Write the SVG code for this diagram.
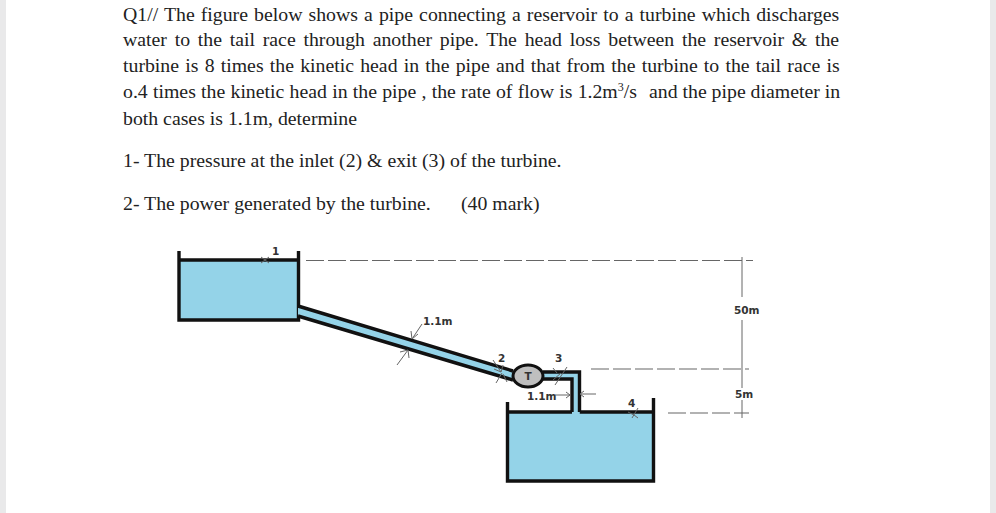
<svg xmlns="http://www.w3.org/2000/svg" width="996" height="513" viewBox="0 0 996 513">
<style>
.q{font-family:"Liberation Serif","Times New Roman",serif;font-size:19.8px;fill:#222}
.s{font-size:12px}
.l{font-family:"DejaVu Sans","Liberation Sans",sans-serif;font-size:10.5px;font-weight:bold;fill:#333}
.w{fill:#94d3e8;stroke:none}
.k{fill:none;stroke:#111;stroke-width:3.4}
.d{fill:none;stroke:#666;stroke-width:1.1;stroke-dasharray:18 4}
.t{fill:none;stroke:#666;stroke-width:1}
</style>
<rect width="996" height="513" fill="#fff"/>
<rect x="0" y="0" width="6" height="513" fill="#e9e9ea"/>
<rect x="990" y="0" width="6" height="513" fill="#e9e9ea"/>
<g id="question">
<text class="q" x="123" y="21" word-spacing="1.15">Q1// The figure below shows a pipe connecting a reservoir to a turbine which discharges</text>
<text class="q" x="123" y="46" word-spacing="2.8">water to the tail race through another pipe. The head loss between the reservoir &amp; the</text>
<text class="q" x="123" y="72" word-spacing="1.26">turbine is 8 times the kinetic head in the pipe and that from the turbine to the tail race is</text>
<text class="q" x="123" y="98" word-spacing="0.3">o.4 times the kinetic head in the pipe , the rate of flow is 1.2m<tspan class="s" dy="-7">3</tspan><tspan dy="7">/s</tspan><tspan x="649" word-spacing="0">and the pipe diameter in</tspan></text>
<text class="q" x="123" y="125">both cases is 1.1m, determine</text>
<text class="q" x="123" y="167">1- The pressure at the inlet (2) &amp; exit (3) of the turbine.</text>
<text class="q" x="123" y="210">2- The power generated by the turbine.</text>
<text class="q" x="461" y="210">(40 mark)</text>
</g>
<g id="reservoir">
<rect class="w" x="179" y="260" width="119" height="60"/>
<path class="k" d="M179 251V320H298.500V251M179 260H298.500"/>
</g>
<g id="tailrace">
<rect class="w" x="507" y="412" width="146" height="69"/>
<path class="k" d="M507.500 402V481H653.500V398M507.500 412H572M579.500 412H653.500"/>
</g>
<g id="pipes">
<polygon class="w" points="298,306 513,371 513,380 298,316"/>
<path class="k" d="M298 306L513 371M298 316L513 380"/>
<path class="w" d="M543 372H579.500V414H572V379H543Z"/>
<path class="k" d="M543 372H579.500V412M543 379H572V412"/>
</g>
<g id="turbine">
<ellipse cx="528" cy="376" rx="15" ry="11" fill="#bfbfbf" stroke="#111" stroke-width="3"/>
<text class="l" x="528" y="380" text-anchor="middle">T</text>
</g>
<g id="connectors">
<path class="d" d="M306 260.500H753"/>
<path class="d" d="M591 369H749"/>
<path class="d" d="M668 413H749"/>
<path class="t" d="M742 257V297M742 320V388M742 400V418"/>
<path class="t" d="M261 257L269 263M261 263L269 257M422 324L412 339M412 339L411 331M412 339L418 334M397 365L408 350M408 350L400 352M408 350L409 358M493 360L501 372M501 372L494 369M501 372L503 365M496 383L502 373M507 382L503 374M553 368L557 373M567 367L555 385M561 373L553 380M555 395H570M566 392L570 395L566 398M596 394H580L584 391M580 394L584 397M632 418L638 408M628 412L634 415L638 418"/>
</g>
<g id="labels">
<text class="l" x="272" y="255">1</text>
<text class="l" x="423" y="325">1.1m</text>
<text class="l" x="498" y="362">2</text>
<text class="l" x="555" y="362">3</text>
<text class="l" x="527" y="400">1.1m</text>
<text class="l" x="628" y="407">4</text>
<text class="l" x="734" y="314">50m</text>
<text class="l" x="735" y="398">5m</text>
</g>
</svg>
